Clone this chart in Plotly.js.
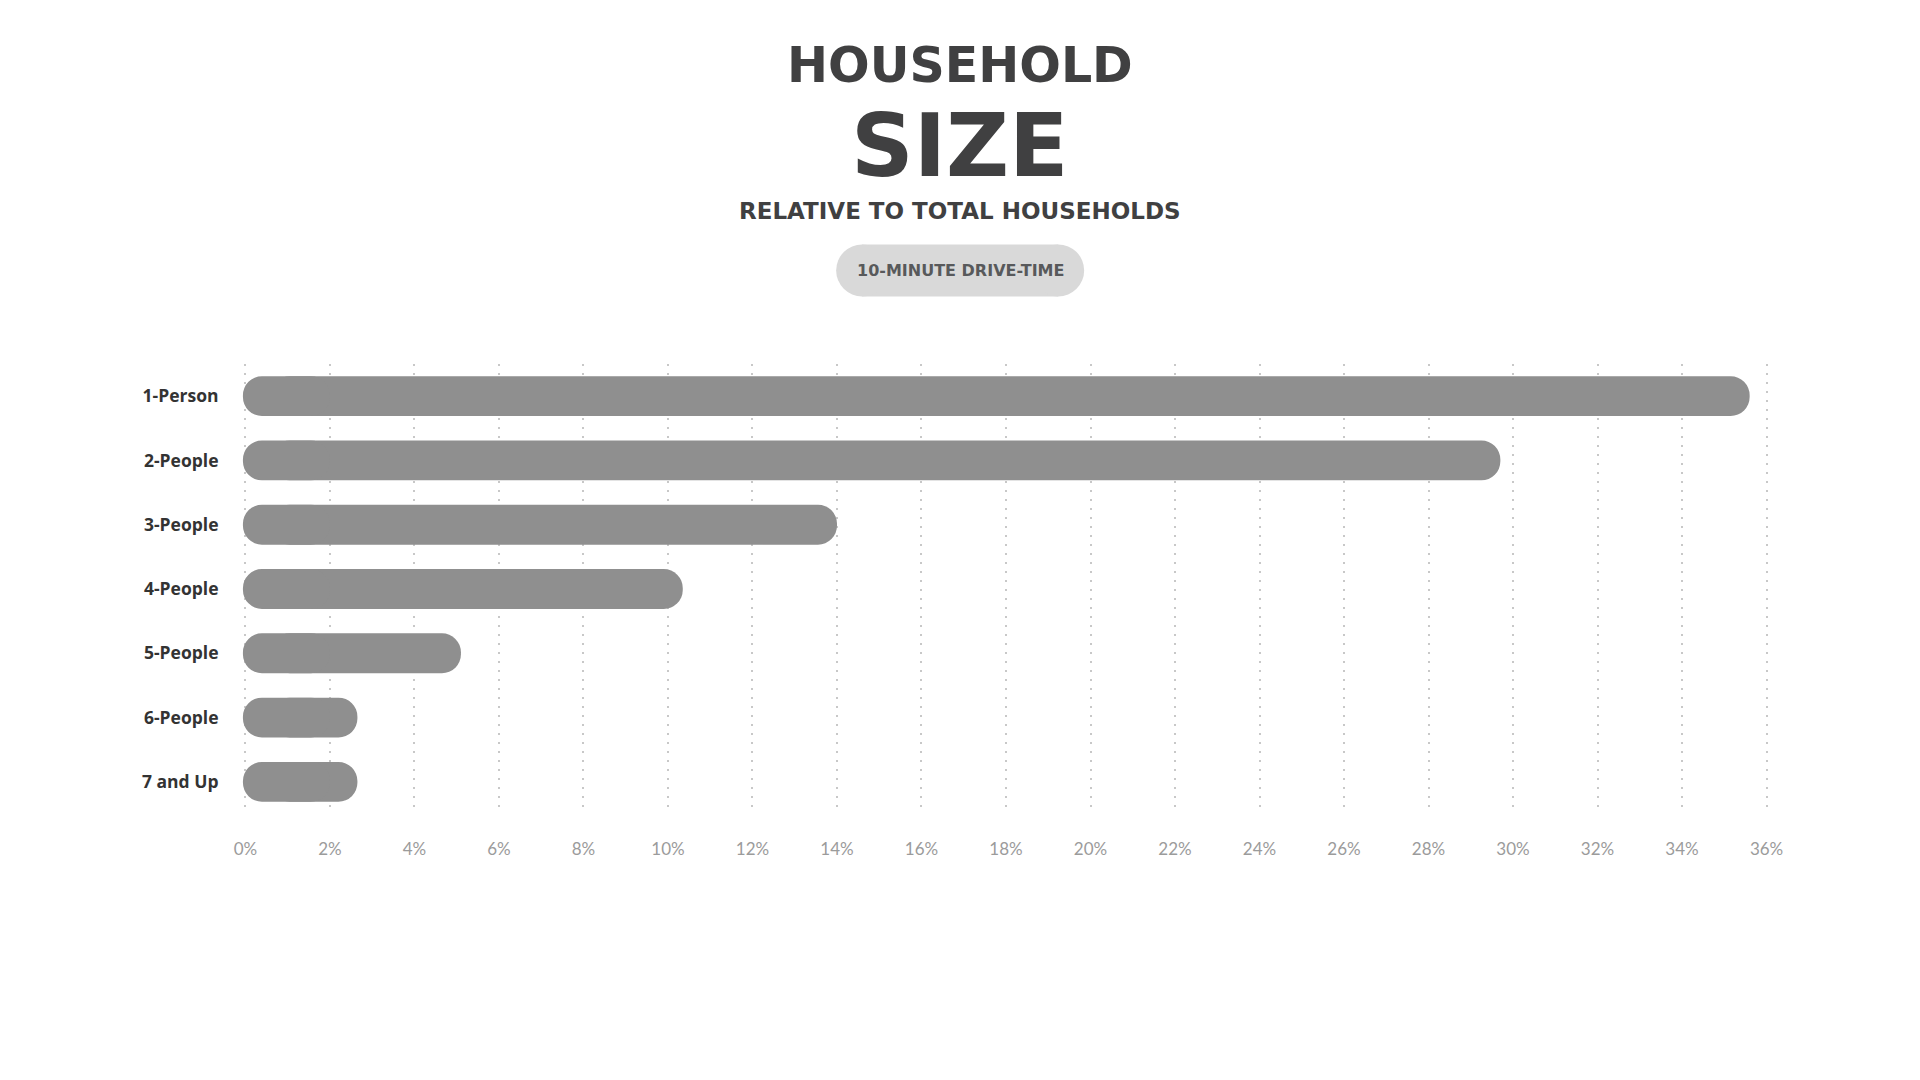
<!DOCTYPE html>
<html>
<head>
<meta charset="utf-8">
<script src="https://cdn.plot.ly/plotly-3.0.1.min.js"></script>
<style>
  html, body { margin: 0; padding: 0; background: #ffffff; }
  #chart { width: 1920px; height: 1080px; }
</style>
</head>
<body>
<div id="chart"></div>
<script>
// ---- data ----
const categories = ["1-Person", "2-People", "3-People", "4-People", "5-People", "6-People", "7 and Up"];
const shares = [35.6, 29.7, 14.0, 10.35, 5.1, 2.65, 2.65];
const tickValues = [0, 2, 4, 6, 8, 10, 12, 14, 16, 18, 20, 22, 24, 26, 28, 30, 32, 34, 36];
const tickLabels = ["0%", "2%", "4%", "6%", "8%", "10%", "12%", "14%", "16%", "18%", "20%", "22%", "24%", "26%", "28%", "30%", "32%", "34%", "36%"];
const titleLine1 = "HOUSEHOLD";
const titleLine2 = "SIZE";
const subtitle = "RELATIVE TO TOTAL HOUSEHOLDS";
const pillText = "10-MINUTE DRIVE-TIME";

// ---- styling constants ----
const barColor = "#8f8f8f";
const rightPartStart = 0.6;   // right rounded half starts here
const leftPartEnd = 2.0;      // left rounded half ends here (overlaps the right half)
const leftCap = -0.06;        // pill left end just left of zero
const barThickness = 0.62;
const titleColor = "#404041";
const pageCenterX = 0.4702;
const pillY = 1.208;

const rightPart = {
  type: "bar", orientation: "h",
  y: categories,
  x: shares.map(v => v - rightPartStart),
  base: rightPartStart,
  width: barThickness,
  marker: { color: barColor, cornerradius: 20, line: { width: 0 } },
  hoverinfo: "skip", showlegend: false
};
const leftPart = {
  type: "bar", orientation: "h",
  y: categories,
  x: categories.map(() => leftCap - leftPartEnd),
  base: leftPartEnd,
  width: barThickness,
  marker: { color: barColor, cornerradius: 20, line: { width: 0 } },
  hoverinfo: "skip", showlegend: false
};

const layout = {
  width: 1920, height: 1080,
  paper_bgcolor: "#ffffff", plot_bgcolor: "#ffffff",
  margin: { l: 236.5, r: 144.8, t: 364, b: 266, pad: 0 },
  barmode: "overlay",
  showlegend: false,
  xaxis: {
    range: [-0.2, 36.2],
    tickvals: tickValues, ticktext: tickLabels,
    showgrid: true, gridcolor: "#c8c8c8", gridwidth: 2, griddash: "2px,7px",
    zeroline: false, showline: false,
    ticks: "outside", ticklen: 20, tickcolor: "rgba(0,0,0,0)",
    tickfont: { family: "Lato, 'Open Sans', sans-serif", size: 17, color: "#9b9b9b" },
    fixedrange: true
  },
  yaxis: {
    type: "category",
    autorange: "reversed",
    showgrid: false, zeroline: false, showline: false,
    ticks: "outside", ticklen: 14, tickcolor: "rgba(0,0,0,0)",
    tickfont: { family: "'Open Sans', sans-serif", size: 17.5, color: "#333333", weight: 700 },
    fixedrange: true
  },
  shapes: [
    { type: "rect", xref: "paper", yref: "paper", xsizemode: "pixel", ysizemode: "pixel",
      xanchor: pageCenterX, yanchor: pillY, x0: -98, x1: 98, y0: -26, y1: 26,
      fillcolor: "#d9d9d9", line: { width: 0 }, layer: "below" },
    { type: "circle", xref: "paper", yref: "paper", xsizemode: "pixel", ysizemode: "pixel",
      xanchor: pageCenterX, yanchor: pillY, x0: -124, x1: -72, y0: -26, y1: 26,
      fillcolor: "#d9d9d9", line: { width: 0 }, layer: "below" },
    { type: "circle", xref: "paper", yref: "paper", xsizemode: "pixel", ysizemode: "pixel",
      xanchor: pageCenterX, yanchor: pillY, x0: 72, x1: 124, y0: -26, y1: 26,
      fillcolor: "#d9d9d9", line: { width: 0 }, layer: "below" }
  ],
  annotations: [
    { text: titleLine1, xref: "paper", yref: "paper", x: pageCenterX, y: 1.663,
      xanchor: "center", yanchor: "middle", showarrow: false,
      font: { family: "'DejaVu Sans', sans-serif", size: 49, color: titleColor, weight: 700 } },
    { text: titleLine2, xref: "paper", yref: "paper", x: pageCenterX, y: 1.485,
      xanchor: "center", yanchor: "middle", showarrow: false,
      font: { family: "'DejaVu Sans', sans-serif", size: 87, color: titleColor, weight: 700 } },
    { text: subtitle, xref: "paper", yref: "paper", x: pageCenterX, y: 1.340,
      xanchor: "center", yanchor: "middle", showarrow: false,
      font: { family: "'DejaVu Sans', sans-serif", size: 23, color: titleColor, weight: 700 } },
    { text: pillText, xref: "paper", yref: "paper", x: pageCenterX, y: pillY,
      xanchor: "center", yanchor: "middle", showarrow: false,
      font: { family: "'DejaVu Sans', sans-serif", size: 16, color: "#58595b", weight: 700 } }
  ]
};

Plotly.newPlot("chart", [rightPart, leftPart], layout, { displayModeBar: false, staticPlot: true });
</script>
</body>
</html>
